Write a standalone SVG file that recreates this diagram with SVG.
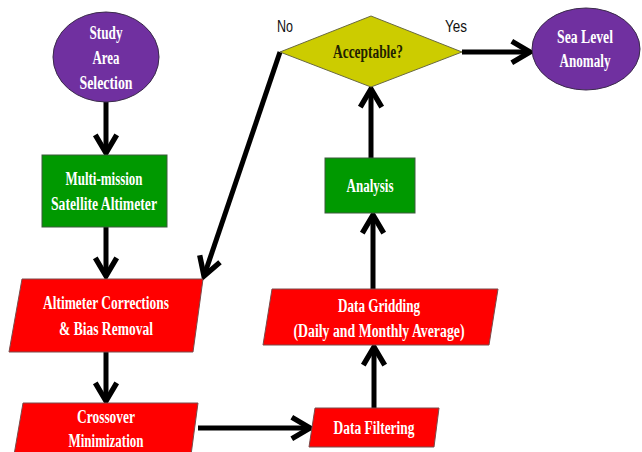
<svg xmlns="http://www.w3.org/2000/svg" width="642" height="452" viewBox="0 0 642 452">
<style>
.bg{fill:#ffffff}
.t{font-family:"Liberation Serif","Times New Roman",serif;font-weight:bold;font-size:18px;fill:#ffffff;text-anchor:middle}
.td{fill:#222200}
.lbl{font-family:"Liberation Sans",Arial,sans-serif;font-size:17px;fill:#111111;text-anchor:middle}
.ov{fill:#7030A0;stroke:#3a2a4a;stroke-width:1}
.gr{fill:#009900;stroke:#3d5a3d;stroke-width:1}
.rd{fill:#FF0000;stroke:#7a4a4a;stroke-width:1}
.dm{fill:#CCCC00;stroke:#6a6a40;stroke-width:1}
.c{stroke:#000000;stroke-width:5;fill:none}
</style>
<defs>
<marker id="ah" markerUnits="userSpaceOnUse" markerWidth="30" markerHeight="30" viewBox="-22 -14 28 28" refX="0" refY="0" orient="auto">
<path d="M-17,-10 L0,0 L-17,10" fill="none" stroke="#000" stroke-width="5" stroke-linejoin="miter"/>
</marker>
</defs>
<rect class="bg" x="0" y="0" width="642" height="452"/>
<g id="connectors">
<line class="c" x1="106" y1="102" x2="106" y2="153" marker-end="url(#ah)"/>
<line class="c" x1="106" y1="227" x2="106" y2="276" marker-end="url(#ah)"/>
<line class="c" x1="106" y1="352" x2="106" y2="401" marker-end="url(#ah)"/>
<line class="c" x1="198" y1="428" x2="310" y2="428" marker-end="url(#ah)"/>
<line class="c" x1="374" y1="408" x2="374" y2="347" marker-end="url(#ah)"/>
<line class="c" x1="373" y1="289" x2="373" y2="215" marker-end="url(#ah)"/>
<line class="c" x1="371" y1="158" x2="371" y2="89" marker-end="url(#ah)"/>
<line class="c" x1="462" y1="52" x2="530" y2="52" marker-end="url(#ah)"/>
<polyline class="c" points="280,52 204,276" marker-end="url(#ah)"/>
<text class="lbl" x="285" y="32" textLength="16" lengthAdjust="spacingAndGlyphs">No</text>
<text class="lbl" x="456" y="32" textLength="22" lengthAdjust="spacingAndGlyphs">Yes</text>
</g>
<g id="study-area">
<ellipse class="ov" cx="106" cy="57" rx="53" ry="45"/>
<text class="t" x="106" y="39" textLength="33" lengthAdjust="spacingAndGlyphs">Study</text>
<text class="t" x="106" y="64" textLength="27" lengthAdjust="spacingAndGlyphs">Area</text>
<text class="t" x="106" y="89" textLength="53" lengthAdjust="spacingAndGlyphs">Selection</text>
</g>
<g id="multi-mission">
<rect class="gr" x="42" y="155" width="125" height="72"/>
<text class="t" x="104" y="185" textLength="77" lengthAdjust="spacingAndGlyphs">Multi-mission</text>
<text class="t" x="104" y="210" textLength="106" lengthAdjust="spacingAndGlyphs">Satellite Altimeter</text>
</g>
<g id="altimeter-corrections">
<polygon class="rd" points="22,279 203,279 193,352 9,352"/>
<text class="t" x="106" y="309" textLength="126" lengthAdjust="spacingAndGlyphs">Altimeter Corrections</text>
<text class="t" x="106" y="335" textLength="94" lengthAdjust="spacingAndGlyphs">&amp; Bias Removal</text>
</g>
<g id="crossover">
<polygon class="rd" points="23,403 198,403 191,455 14,455"/>
<text class="t" x="106" y="423" textLength="58" lengthAdjust="spacingAndGlyphs">Crossover</text>
<text class="t" x="106" y="447" textLength="75" lengthAdjust="spacingAndGlyphs">Minimization</text>
</g>
<g id="data-filtering">
<polygon class="rd" points="315,408 439,408 434,447 309,447"/>
<text class="t" x="374" y="434" textLength="81" lengthAdjust="spacingAndGlyphs">Data Filtering</text>
</g>
<g id="data-gridding">
<polygon class="rd" points="272,289 498,289 489,345 263,345"/>
<text class="t" x="379" y="312" textLength="82" lengthAdjust="spacingAndGlyphs">Data Gridding</text>
<text class="t" x="379" y="337" textLength="171" lengthAdjust="spacingAndGlyphs">(Daily and Monthly Average)</text>
</g>
<g id="analysis">
<rect class="gr" x="325" y="158" width="90" height="55"/>
<text class="t" x="370" y="192" textLength="47" lengthAdjust="spacingAndGlyphs">Analysis</text>
</g>
<g id="acceptable">
<polygon class="dm" points="280,52 371,16 462,52 371,87"/>
<text class="t td" x="368" y="58" textLength="70" lengthAdjust="spacingAndGlyphs">Acceptable?</text>
</g>
<g id="sea-level-anomaly">
<ellipse class="ov" cx="586" cy="49" rx="54" ry="41"/>
<text class="t" x="585" y="43" textLength="56" lengthAdjust="spacingAndGlyphs">Sea Level</text>
<text class="t" x="585" y="67" textLength="51" lengthAdjust="spacingAndGlyphs">Anomaly</text>
</g>
</svg>
